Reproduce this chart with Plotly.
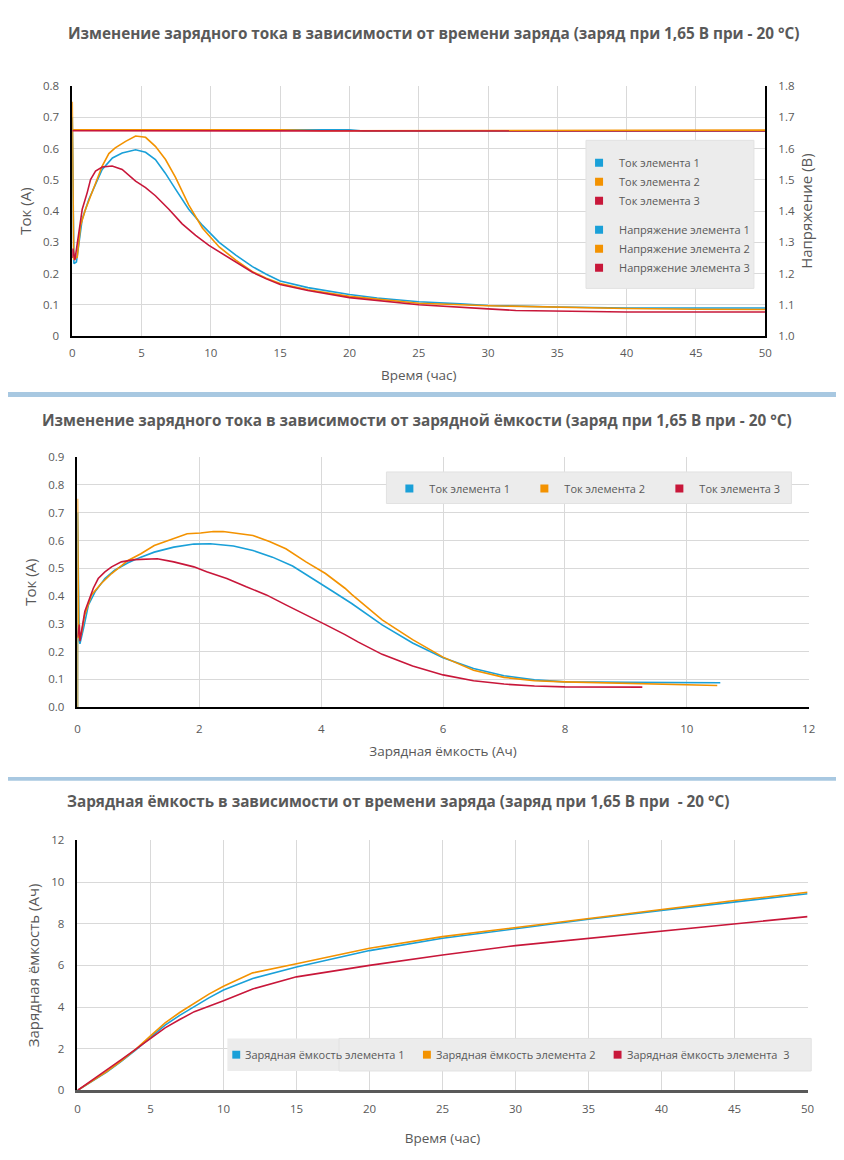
import plotly.graph_objects as go

# ---------------- DATA ----------------
# Chart 1: current vs charge time (h)
time1 = [0, 0.12, 0.3, 0.48, 0.72, 1.2, 1.7, 2.16, 2.9, 3.6, 4.57, 5.29, 6.0, 6.7, 7.45, 8.4, 9.4, 10.6, 11.8, 13.0, 14.0, 15, 17, 20, 22, 25, 28, 30, 35, 40, 45, 50]
cur1 = [0.70, 0.232, 0.237, 0.30, 0.375, 0.438, 0.49, 0.533, 0.57, 0.586, 0.596, 0.588, 0.565, 0.522, 0.47, 0.406, 0.354, 0.30, 0.259, 0.222, 0.198, 0.176, 0.155, 0.133, 0.122, 0.11, 0.103, 0.098, 0.093, 0.090, 0.090, 0.090]
time2 = [0, 0.1, 0.36, 0.6, 0.96, 1.44, 2.16, 2.64, 3.1, 3.85, 4.57, 5.29, 6.0, 6.73, 7.45, 8.4, 9.4, 10.6, 11.8, 13.0, 14.0, 15, 17, 20, 25, 30, 35, 40, 45, 50]
cur2 = [0.75, 0.245, 0.253, 0.354, 0.406, 0.459, 0.544, 0.584, 0.602, 0.623, 0.64, 0.636, 0.607, 0.565, 0.508, 0.42, 0.345, 0.285, 0.243, 0.206, 0.185, 0.168, 0.148, 0.127, 0.105, 0.097, 0.092, 0.088, 0.086, 0.085]
time3 = [0, 0.05, 0.19, 0.43, 0.72, 1.08, 1.32, 1.68, 2.16, 2.88, 3.6, 4.57, 5.29, 6.0, 6.97, 7.93, 8.9, 9.86, 10.8, 11.8, 13.0, 14.0, 15, 17, 20, 25, 28, 30, 32, 35, 40, 45, 50]
cur3 = [0.25, 0.28, 0.243, 0.311, 0.406, 0.459, 0.501, 0.528, 0.541, 0.544, 0.533, 0.496, 0.475, 0.449, 0.406, 0.359, 0.322, 0.29, 0.264, 0.237, 0.204, 0.183, 0.165, 0.146, 0.123, 0.10, 0.091, 0.087, 0.082, 0.080, 0.077, 0.077, 0.077]

volt_time = [0, 5, 10, 15, 18, 20, 21, 25, 30, 35, 38, 40, 45, 50]
volt1 = [1.660, 1.660, 1.660, 1.659, 1.660, 1.660, 1.656, 1.656, 1.656, 1.656, 1.656, 1.656, 1.656, 1.656]
volt2 = [1.660, 1.660, 1.659, 1.660, 1.657, 1.657, 1.657, 1.657, 1.657, 1.657, 1.659, 1.659, 1.659, 1.659]
volt3 = [1.657, 1.657, 1.657, 1.656, 1.656, 1.656, 1.656, 1.656, 1.656, 1.656, 1.656, 1.656, 1.656, 1.656]

# Chart 2: current vs charged capacity (Ah)
capq1 = [0, 0, 0.03, 0.04, 0.1, 0.18, 0.29, 0.45, 0.61, 0.83, 1.04, 1.26, 1.58, 1.91, 2.18, 2.56, 2.88, 3.2, 3.53, 3.85, 4.18, 4.5, 5.0, 5.5, 6.0, 6.5, 7.0, 7.5, 8.0, 9.0, 10.0, 10.55]
curq1 = [0, 0.70, 0.238, 0.228, 0.285, 0.368, 0.416, 0.463, 0.493, 0.52, 0.54, 0.558, 0.576, 0.587, 0.588, 0.58, 0.564, 0.54, 0.508, 0.465, 0.418, 0.373, 0.296, 0.231, 0.178, 0.139, 0.113, 0.098, 0.091, 0.089, 0.088, 0.088]
capq2 = [0, 0, 0.02, 0.06, 0.12, 0.23, 0.39, 0.56, 0.83, 1.04, 1.26, 1.58, 1.8, 2.02, 2.23, 2.39, 2.66, 2.88, 3.15, 3.42, 3.75, 4.07, 4.39, 4.5, 5.0, 5.5, 6.0, 6.5, 7.0, 7.5, 8.0, 9.0, 10.0, 10.5]
curq2 = [0, 0.75, 0.249, 0.26, 0.333, 0.404, 0.445, 0.481, 0.528, 0.552, 0.582, 0.606, 0.624, 0.627, 0.632, 0.632, 0.624, 0.618, 0.596, 0.570, 0.523, 0.481, 0.428, 0.406, 0.314, 0.243, 0.18, 0.133, 0.107, 0.095, 0.091, 0.086, 0.081, 0.078]
capq3 = [0, 0.03, 0.04, 0.08, 0.12, 0.18, 0.26, 0.34, 0.45, 0.56, 0.72, 0.94, 1.15, 1.31, 1.58, 1.91, 2.12, 2.45, 2.77, 3.1, 3.42, 3.75, 4.07, 4.39, 4.61, 5.0, 5.5, 6.0, 6.5, 7.0, 7.5, 8.0, 9.27]
curq3 = [0.25, 0.297, 0.238, 0.285, 0.344, 0.38, 0.428, 0.463, 0.487, 0.505, 0.523, 0.531, 0.534, 0.534, 0.523, 0.505, 0.487, 0.463, 0.433, 0.404, 0.368, 0.333, 0.297, 0.261, 0.234, 0.19, 0.148, 0.116, 0.095, 0.083, 0.076, 0.073, 0.072]

# Chart 3: charged capacity vs time
time_c = [0, 1, 2, 3, 4, 5, 6, 7, 8, 9, 10, 12, 15, 20, 25, 30, 35, 40, 45, 50]
cap1 = [0, 0.42, 0.88, 1.4, 1.95, 2.55, 3.13, 3.6, 4.03, 4.44, 4.82, 5.37, 5.92, 6.71, 7.3, 7.77, 8.21, 8.64, 9.05, 9.44]
cap2 = [0, 0.43, 0.9, 1.42, 1.98, 2.62, 3.24, 3.74, 4.2, 4.62, 5.0, 5.64, 6.08, 6.82, 7.38, 7.82, 8.25, 8.69, 9.11, 9.51]
cap3 = [0, 0.48, 0.98, 1.48, 1.98, 2.5, 3.0, 3.4, 3.78, 4.04, 4.3, 4.87, 5.45, 6.0, 6.5, 6.95, 7.3, 7.66, 8.02, 8.34]

names_current = ["Ток элемента 1", "Ток элемента 2", "Ток элемента 3"]
names_voltage = ["Напряжение элемента 1", "Напряжение элемента 2", "Напряжение элемента 3"]
names_capacity = ["Зарядная ёмкость элемента 1", "Зарядная ёмкость элемента 2", "Зарядная ёмкость элемента  3"]

titles = [
    "Изменение зарядного тока в зависимости от времени заряда (заряд при 1,65 В при - 20 °С)",
    "Изменение зарядного тока в зависимости от зарядной ёмкости (заряд при 1,65 В при - 20 °С)",
    "Зарядная ёмкость в зависимости от времени заряда (заряд при 1,65 В при  - 20 °С)",
]
xtitle_time = "Время (час)"
xtitle_cap = "Зарядная ёмкость (Ач)"
ytitle_cur = "Ток (А)"
ytitle_volt = "Напряжение (В)"
ytitle_cap = "Зарядная ёмкость (Ач)"

# ---------------- STYLE ----------------
# The page places the figure 8 px in from each window edge, so the figure is
# sized to fit the window exactly and positions are given in window pixels.
OFF = 8
W, H = 844 - 2 * OFF, 1160 - 2 * OFF
def px(x):
    return (x - OFF) / W
def py(y):
    return 1 - (y - OFF) / H

COLORS = ["#1aa0d8", "#f39200", "#c8173a"]
GRAY = "#595959"
GRID = "#d9d9d9"
BAND = "#a8c8e1"
LEGBG = "#ececec"
FONT = "Open Sans"
LW = 1.6

fig = go.Figure()

# chart 1 traces
for t, c, col in zip([time1, time2, time3], [cur1, cur2, cur3], COLORS):
    fig.add_trace(go.Scatter(x=t, y=c, mode="lines", line=dict(color=col, width=LW),
                             xaxis="x", yaxis="y", showlegend=False, hoverinfo="skip"))
for v, col in zip([volt1, volt2, volt3], COLORS):
    fig.add_trace(go.Scatter(x=volt_time, y=v, mode="lines", line=dict(color=col, width=LW),
                             xaxis="x", yaxis="y2", showlegend=False, hoverinfo="skip"))
for grp, names in (("I", names_current), ("V", names_voltage)):
    for n, col in zip(names, COLORS):
        fig.add_trace(go.Scatter(x=[None], y=[None], mode="markers", name=n,
                                 marker=dict(symbol="square", size=8, color=col),
                                 legend="legend", legendgroup=grp, xaxis="x", yaxis="y"))

# chart 2 traces
for q, c, col in zip([capq1, capq2, capq3], [curq1, curq2, curq3], COLORS):
    fig.add_trace(go.Scatter(x=q, y=c, mode="lines", line=dict(color=col, width=LW),
                             xaxis="x2", yaxis="y3", showlegend=False, hoverinfo="skip"))
for n, col in zip(names_current, COLORS):
    fig.add_trace(go.Scatter(x=[None], y=[None], mode="markers", name=n,
                             marker=dict(symbol="square", size=8, color=col),
                             legend="legend2", xaxis="x2", yaxis="y3"))

# chart 3 traces
for c, col in zip([cap1, cap2, cap3], COLORS):
    fig.add_trace(go.Scatter(x=time_c, y=c, mode="lines", line=dict(color=col, width=LW),
                             xaxis="x3", yaxis="y4", showlegend=False, hoverinfo="skip"))

tickfont = dict(family=FONT, size=11.5, color=GRAY)
axtitlefont = dict(family=FONT, size=13.5, color=GRAY)
ytitlefont = dict(family=FONT, size=15, color=GRAY)

def xax(domain, anchor, rng, dtick, title, standoff, tls, linecolor, linewidth):
    return dict(domain=domain, anchor=anchor, range=rng, dtick=dtick, showgrid=True,
                gridcolor=GRID, gridwidth=1, zeroline=False, showline=True,
                linecolor=linecolor, linewidth=linewidth, ticks="", tickfont=tickfont,
                ticklabelstandoff=tls, title=dict(text=title, font=axtitlefont, standoff=standoff),
                fixedrange=True)

def yax(domain, anchor, rng, dtick, title, fmt, standoff):
    return dict(domain=domain, anchor=anchor, range=rng, dtick=dtick, showgrid=True,
                gridcolor=GRID, gridwidth=1, zeroline=False, showline=True,
                linecolor="#000000", linewidth=1.5, ticks="", tickfont=tickfont,
                tickformat=fmt, ticklabelstandoff=9, layer="below traces",
                title=dict(text=title, font=ytitlefont, standoff=standoff), fixedrange=True)

def box(x0, x1, y0, y1, line=None):
    return dict(type="rect", xref="paper", yref="paper", x0=px(x0), x1=px(x1),
                y0=py(y1), y1=py(y0), fillcolor=LEGBG,
                line=line or dict(width=1, color="#e2e2e2"), layer="above")

shapes = []
# white panels separated by blue bands
for y0, y1 in ((0, 389), (394, 779), (783, 1170)):
    shapes.append(dict(type="rect", xref="paper", yref="paper", x0=px(0), x1=px(850),
                       y0=py(y1), y1=py(y0), fillcolor="white", line=dict(width=0), layer="below"))

# legend background boxes
shapes.append(box(590, 760, 134, 284))
shapes.append(box(388, 798, 470, 502))
# chart 3 legend (two overlapping boxes like the original)
LY0, LY1 = 1044, 1077
shapes.append(box(227, 520, LY0, LY1, line=dict(width=0)))
shapes.append(box(340, 818, LY0, LY1))
annotations = []
for k, (n, col) in enumerate(zip(names_capacity, COLORS)):
    sx = 232 + k * 193
    cy = (LY0 + LY1) / 2
    shapes.append(dict(type="rect", xref="paper", yref="paper", x0=px(sx), x1=px(sx + 8),
                       y0=py(cy + 4), y1=py(cy - 4), fillcolor=col, line=dict(width=0), layer="above"))
    annotations.append(dict(text=n, xref="paper", yref="paper", x=px(sx + 11), y=py(cy),
                            xanchor="left", yanchor="middle", showarrow=False,
                            font=dict(family=FONT, size=11, color=GRAY)))

# titles
for txt, cx, cy in zip(titles, (435.5, 418.5, 400), (25, 417, 803)):
    annotations.append(dict(text=txt, xref="paper", yref="paper", x=px(cx), y=py(cy),
                            xanchor="center", yanchor="middle", showarrow=False,
                            font=dict(family=FONT, size=15.3, color=GRAY, weight="bold")))

legend_common = dict(bgcolor="rgba(0,0,0,0)", borderwidth=0,
                     font=dict(family=FONT, size=11, color=GRAY), itemclick=False,
                     itemdoubleclick=False, xanchor="left", yanchor="top")

fig.update_layout(
    width=W, height=H, margin=dict(l=0, r=0, t=0, b=0),
    paper_bgcolor=BAND, plot_bgcolor="white", hovermode=False,
    xaxis=xax([px(70), px(771.5)], "y", [0, 50], 5, xtitle_time, 12, 5, "#000000", 2),
    yaxis=yax([py(332.3), py(79)], "x", [0, 0.8], 0.1, ytitle_cur, None, 8),
    yaxis2=dict(overlaying="y", side="right", anchor="x", range=[1.0, 1.8], dtick=0.1,
                tickformat=".1f", showgrid=False, zeroline=False, showline=True,
                linecolor="#000000", linewidth=1.5, ticks="", tickfont=tickfont,
                ticklabelstandoff=9, title=dict(text=ytitle_volt, font=ytitlefont, standoff=8),
                fixedrange=True),
    xaxis2=xax([px(75.3), px(815.4)], "y3", [0, 12], 2, xtitle_cap, 12, 10, "#000000", 2),
    yaxis3=yax([py(708.3), py(455)], "x2", [0, 0.9], 0.1, ytitle_cur, ".1f", 8),
    xaxis3=xax([px(75.3), px(814.3)], "y4", [0, 50], 5, xtitle_time, 19, 6, "#595959", 3),
    yaxis4=yax([py(1096.7), py(843.3)], "x3", [0, 12], 2, ytitle_cap, None, 8),
    legend=dict(legend_common, x=px(583), y=py(142), orientation="v",
                traceorder="grouped", tracegroupgap=10),
    legend2=dict(legend_common, x=px(391), y=py(472), orientation="h",
                 entrywidth=90, entrywidthmode="pixels"),
    shapes=shapes, annotations=annotations,
)

fig.write_html("out.html")
